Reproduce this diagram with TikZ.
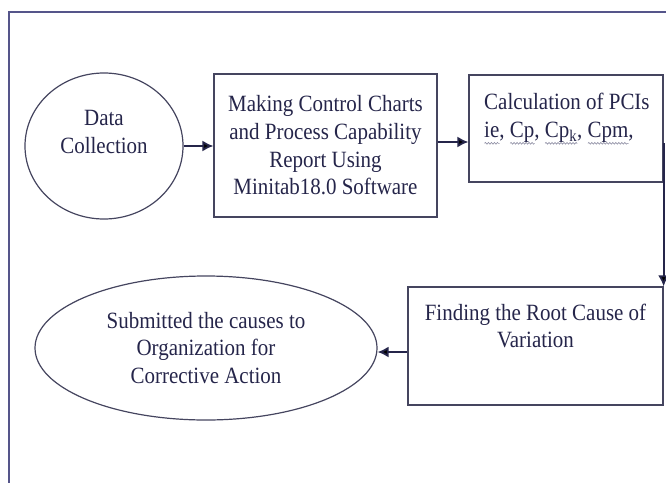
\documentclass[tikz,border=0pt]{standalone}
\usepackage{fontspec}
\setmainfont{Liberation Serif}[FakeStretch=0.9]
\usetikzlibrary{arrows.meta, shapes.geometric, calc, decorations.pathmorphing}
\definecolor{ink}{HTML}{25254A}
\definecolor{edge}{HTML}{45455F}
\definecolor{framecol}{HTML}{55558A}
\definecolor{wavecol}{HTML}{8A8AA0}
\newcommand{\spellwave}[1]{\setbox0\hbox{#1}\rlap{\tikz[baseline=0pt]\draw[wavecol, line width=0.6pt, decorate, decoration={snake, amplitude=0.9pt, segment length=3pt}] (0pt,-6pt) -- (\wd0,-6pt);}\box0}

\begin{document}
\begin{tikzpicture}[x=1pt, y=-1pt,
    every node/.style={text=ink, font=\fontsize{23.3}{27.7}\selectfont, align=center},
    box/.style={draw=edge, line width=1.2pt, rectangle, inner sep=0pt},
    oval/.style={draw=edge, line width=1.2pt, ellipse, inner sep=0pt},
    arr/.style={draw=ink, line width=1.8pt, -{Latex[length=11pt,width=11pt]}}]
    \useasboundingbox (0,0) rectangle (666,482);
    \clip (0,0) rectangle (666,482);
    \draw[framecol, line width=1.6pt] (9,500) -- (9,12) -- (700,12);
    \node[oval, minimum width=158pt, minimum height=146pt] (data) at (104,146) {};
    \node (datatxt) at (104,132) {Data\\Collection};
    \node[box, minimum width=223pt, minimum height=143pt] (making) at (325.5,145.5) {Making Control Charts\\and Process Capability\\Report Using\\Minitab18.0 Software};
    \node[box, minimum width=194pt, minimum height=107pt] (pci) at (566,128.5) {};
    \node[anchor=north west, inner sep=0pt, align=left] (pcitxt) at (484,93) {Calculation of PCIs\\\spellwave{ie}, \spellwave{Cp}, \spellwave{Cp\textsubscript{k}}, \spellwave{Cpm},};
    \node[box, minimum width=255pt, minimum height=118pt] (root) at (535.5,346) {};
    \node (roottxt) at (535.5,326) {Finding the Root Cause of\\Variation};
    \node[oval, minimum width=342pt, minimum height=144pt] (cause) at (206,348) {Submitted the causes to\\Organization for\\Corrective Action};
    \draw[arr] (data.east) -- (data.east -| making.west);
    \draw[arr] ([yshift=3.5pt]making.east) -- ([yshift=3.5pt]making.east -| pci.west);
    \coordinate (down) at ([yshift=-14.5pt]pci.east);
    \draw[arr] (down) -- (down |- root.north);
    \draw[arr] ([yshift=-6pt]root.west) -- ([yshift=-6pt]root.west -| cause.east);
\end{tikzpicture}
\end{document}
